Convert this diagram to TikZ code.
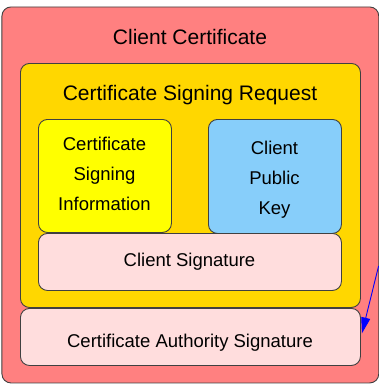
\documentclass[tikz,border=0pt]{standalone}
\usepackage{fontspec}
\setmainfont{Liberation Sans}
\usetikzlibrary{arrows.meta}
\definecolor{certred}{HTML}{FF8080}
\definecolor{csrgold}{HTML}{FFD700}
\definecolor{infoyellow}{HTML}{FFFF00}
\definecolor{keyblue}{HTML}{87CEFA}
\definecolor{sigpink}{HTML}{FFDDDD}
\definecolor{edgegray}{HTML}{404040}
\begin{document}
\begin{tikzpicture}[x=1pt,y=-1pt,
  box/.style={draw=edgegray, line width=0.9pt, rounded corners=9pt, inner sep=0pt, anchor=north west},
  titletext/.style={font=\fontsize{21}{25}\selectfont, anchor=base, inner sep=0pt},
  bodytext/.style={font=\fontsize{18.5}{30}\selectfont, anchor=base, inner sep=0pt, align=center},
  arrowline/.style={draw=blue, line width=0.9pt, -{Triangle[length=16pt,width=9pt]}},
]
\useasboundingbox (0,0) rectangle (379,384);
\node[box, fill=certred, minimum width=376.8pt, minimum height=376pt] (cert) at (1.5,6.5) {};
\node[box, fill=csrgold, minimum width=340pt, minimum height=244pt] (csr) at (20,63) {};
\node[box, fill=infoyellow, minimum width=133pt, minimum height=113pt] (info) at (38,119) {};
\node[box, fill=keyblue, minimum width=133pt, minimum height=114pt] (key) at (208,119) {};
\node[box, fill=sigpink, minimum width=303pt, minimum height=57pt] (clientsig) at (38,233) {};
\node[box, fill=sigpink, minimum width=340pt, minimum height=57pt] (casig) at (20,308) {};
\node[titletext] (certtitle) at (190,44) {Client Certificate};
\node[titletext] (csrtitle) at (190,100.7) {Certificate Signing Request};
\node[bodytext] (infotext) at (104.5,210.7) {Certificate\\Signing\\Information};
\node[bodytext] (keytext) at (274.5,214) {Client\\Public\\Key};
\node[bodytext] (clientsigtext) at (189.5,266.7) {Client Signature};
\node[bodytext] (casigtext) at (190,347.3) {Certificate Authority Signature};
\coordinate (arrowstart) at (378.6,266);
\draw[arrowline] (arrowstart) -- ([xshift=1pt,yshift=3.5pt]casig.east);
\end{tikzpicture}
\end{document}
